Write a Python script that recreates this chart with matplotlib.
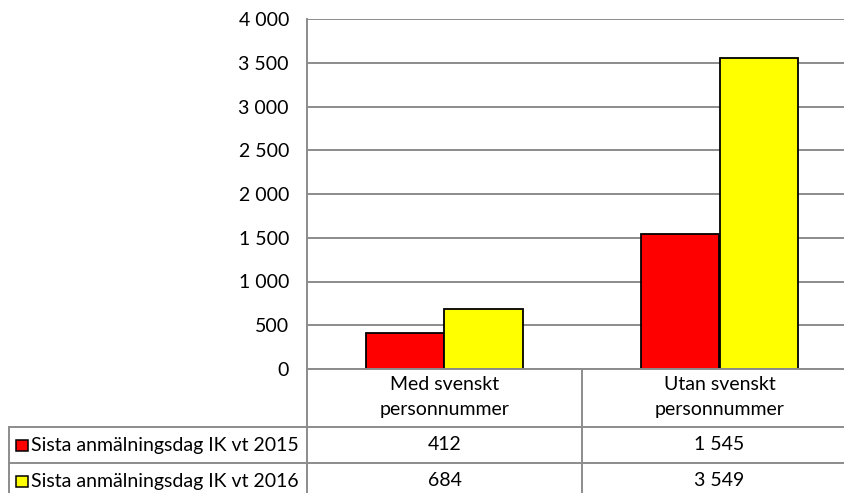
import matplotlib
matplotlib.use("Agg")
import matplotlib.pyplot as plt
from matplotlib.lines import Line2D
from matplotlib.patches import Rectangle
import numpy as np

# --- Data ---
categories = ["Med svenskt\npersonnummer", "Utan svenskt\npersonnummer"]
series_names = ["Sista anmälningsdag IK vt 2015", "Sista anmälningsdag IK vt 2016"]
vt2015 = [412, 1545]
vt2016 = [684, 3549]
yticks = [0, 500, 1000, 1500, 2000, 2500, 3000, 3500, 4000]
colors = ["#FF0000", "#FFFF00"]

plt.rcParams['font.family'] = ['Lato', 'DejaVu Sans']
FS = 14
GRID = "#8c8c8c"

W, H = 845, 493
fig = plt.figure(figsize=(W / 100, H / 100), dpi=100)

def fx(px):
    return px / W

def fy(py):
    return 1 - py / H

# plot area in pixels (right edge is cut off by the image)
left, right, top, bottom = 307, 857, 19, 369
ax = fig.add_axes([fx(left), fy(bottom), fx(right) - fx(left), fy(top) - fy(bottom)])

x = np.arange(len(categories))
w = 0.287
ax.bar(x - w / 2, vt2015, w, color=colors[0], edgecolor="black", linewidth=1.3, zorder=3)
ax.bar(x + w / 2, vt2016, w, color=colors[1], edgecolor="black", linewidth=1.3, zorder=3)

ax.set_xlim(-0.5, 1.5)
ax.set_ylim(0, 4000)
ax.set_yticks(yticks)
ax.set_yticklabels([f"{t:,}".replace(",", " ") for t in yticks], fontsize=FS)
ax.set_xticks([])
ax.tick_params(axis="y", length=0, pad=13)
ax.yaxis.grid(True, color=GRID, linewidth=1.4, zorder=0)
for s in ["top", "right", "bottom"]:
    ax.spines[s].set_visible(False)
ax.spines["left"].set_color(GRID)
ax.spines["left"].set_linewidth(1.4)

# --- Data table below the chart ---
def hline(py, x0, x1):
    fig.add_artist(Line2D([fx(x0), fx(x1)], [fy(py), fy(py)], color=GRID, linewidth=1.4))

def vline(px, y0, y1):
    fig.add_artist(Line2D([fx(px), fx(px)], [fy(y0), fy(y1)], color=GRID, linewidth=1.4))

mid = (left + right) / 2
hline(369, left, right)
hline(427, 9, right)
hline(463, 9, right)
hline(499, 9, right)
vline(9, 427, 499)
vline(left, 369, 499)
vline(mid, 369, 499)

col_centers = [(left + mid) / 2, (mid + right) / 2]
for cx, cat in zip(col_centers, categories):
    fig.text(fx(cx), fy(397), cat, ha="center", va="center", fontsize=FS, linespacing=1.55)

rows = [vt2015, vt2016]
row_centers = [445, 481]
for name, vals, col, cy in zip(series_names, rows, colors, row_centers):
    fig.add_artist(Rectangle((fx(16), fy(cy + 5.5)), fx(12), 11 / H, facecolor=col,
                             edgecolor="black", linewidth=1.1, transform=fig.transFigure))
    fig.text(fx(31), fy(cy), name, ha="left", va="center", fontsize=FS)
    for cx, v in zip(col_centers, vals):
        fig.text(fx(cx), fy(cy), f"{v:,}".replace(",", " "), ha="center", va="center", fontsize=FS)

fig.savefig("out.png", dpi=100)
